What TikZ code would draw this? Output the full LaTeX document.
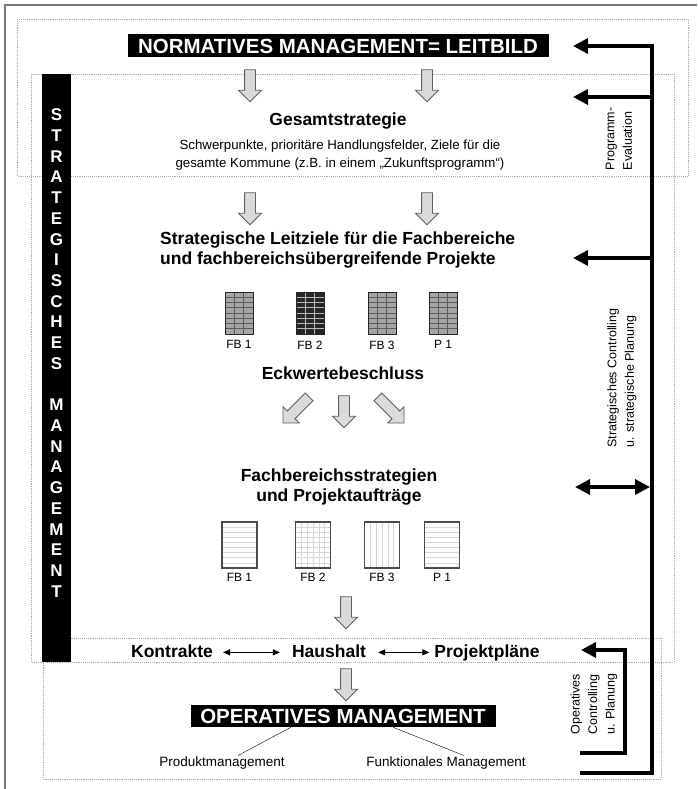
\documentclass[tikz,border=0pt]{standalone}
\usepackage{fontspec}
\setmainfont{Liberation Sans}
\usepackage{tikz}
\usetikzlibrary{arrows.meta, shapes.arrows, positioning, calc}
\definecolor{FrameGray}{RGB}{120,120,120}
\definecolor{ZoneGray}{RGB}{170,170,170}
\definecolor{ArrowFill}{RGB}{218,218,218}
\definecolor{ArrowLine}{RGB}{95,95,95}
\definecolor{SheetFill}{RGB}{165,165,165}
\definecolor{SheetLine}{RGB}{90,90,90}
\definecolor{PaleLine}{RGB}{215,215,215}

\begin{document}
\begin{tikzpicture}[x=1pt,y=-1pt,
    zone/.style={draw=ZoneGray,densely dotted,line width=0.9pt},
    blk/.style={fill=black,text=white,inner sep=0pt,font=\bfseries\fontsize{20.5}{23}\selectfont},
    hd/.style={font=\bfseries\fontsize{17.5}{20.5}\selectfont,inner sep=2pt},
    sm/.style={font=\fontsize{13.3}{18}\selectfont,inner sep=1pt},
    lbl/.style={font=\fontsize{12}{14}\selectfont,inner sep=1pt},
    mgt/.style={font=\fontsize{13.5}{15}\selectfont,inner sep=1pt},
    rot/.style={font=\fontsize{12.5}{17.5}\selectfont,rotate=90,align=left,inner sep=0pt},
    barch/.style={text=white,font=\bfseries\fontsize{17}{17}\selectfont,inner sep=0pt},
    harr/.style={single arrow,draw=ArrowLine,fill=ArrowFill,line width=0.9pt,
                 inner xsep=0pt,inner ysep=5pt,single arrow head extend=6pt},
    down/.style={harr,minimum height=32pt,rotate=-90},
    diag/.style={harr,minimum height=37pt},
    gsheet/.style 2 args={draw=black!85,line width=0.9pt,fill=#1,
                 minimum width=28pt,minimum height=42pt,inner sep=0pt,
                 path picture={
                   \foreach \c in {1,2}
                     \draw[#2,line width=1pt]
                       ($(path picture bounding box.north west)!\c/3!(path picture bounding box.north east)$) --
                       ($(path picture bounding box.south west)!\c/3!(path picture bounding box.south east)$);
                   \foreach \r in {1,...,7}
                     \draw[#2,line width=0.7pt]
                       ($(path picture bounding box.north west)!\r/8!(path picture bounding box.south west)$) --
                       ($(path picture bounding box.north east)!\r/8!(path picture bounding box.south east)$);
                 }},
    psheet/.style 2 args={draw=black!70,line width=1.6pt,fill=white,
                 minimum width=35pt,minimum height=46pt,inner sep=0pt,
                 path picture={
                   \foreach \r in {#1}
                     \draw[PaleLine,line width=0.6pt]
                       ($(path picture bounding box.north west)!\r/9!(path picture bounding box.south west)$) --
                       ($(path picture bounding box.north east)!\r/9!(path picture bounding box.south east)$);
                   \foreach \c in {#2}
                     \draw[PaleLine,line width=0.6pt]
                       ($(path picture bounding box.north west)!\c/6!(path picture bounding box.north east)$) --
                       ($(path picture bounding box.south west)!\c/6!(path picture bounding box.south east)$);
                 }},
    fb/.style={line width=3.5pt,-{Triangle[length=15pt,width=15pt]}},
    fbtwo/.style={line width=3.5pt,{Triangle[length=15pt,width=15pt]}-{Triangle[length=15pt,width=15pt]}},
    tw/.style={line width=1.2pt,{Triangle[length=7pt,width=6pt]}-{Triangle[length=7pt,width=6pt]}}
  ]
  \useasboundingbox (0,0) rectangle (697,789);

  % frame and zones
  \draw[FrameGray,line width=1.5pt] (5,789) -- (5,5) -- (697,5);
  \draw[zone] (17,19) rectangle (688,176);
  \draw[zone] (31,74) rectangle (674,662);
  \draw[zone] (43,638) rectangle (661,779);

  % strategic bar
  \node[fill=black,minimum width=29pt,minimum height=588pt,inner sep=0pt] (bar) at (56.5,368) {};
  \foreach \ch [count=\i] in {S,T,R,A,T,E,G,I,S,C,H,E,S}
    \node[barch] (s\i) at (56.5,{115+(\i-1)*20.7}) {\ch};
  \foreach \ch [count=\i] in {M,A,N,A,G,E,M,E,N,T}
    \node[barch] (m\i) at (56.5,{405+(\i-1)*20.7}) {\ch};

  % normative level
  \node[blk,minimum width=421pt,minimum height=23pt] (leitbild) at (338,46) {NORMATIVES MANAGEMENT= LEITBILD};
  \node[down] (d1) at (250,83) {};
  \node[down] (d2) at (427,83) {};
  \node[hd] (gesamt) at (338,121) {Gesamtstrategie};
  \node[sm,align=center] (schwer) at (340,155)
    {Schwerpunkte, prioritäre Handlungsfelder, Ziele für die\\gesamte Kommune (z.B. in einem „Zukunftsprogramm“)};

  % strategic level
  \node[down] (d3) at (250,206) {};
  \node[down] (d4) at (427,206) {};
  \node[hd,align=left,anchor=west] (leitziele) at (158,250)
    {Strategische Leitziele für die Fachbereiche\\und fachbereichsübergreifende Projekte};

  \node[gsheet={SheetFill}{SheetLine}] (g1) at (239,313) {};
  \node[gsheet={black!85}{gray!55}] (g2) at (310,313) {};
  \node[gsheet={SheetFill}{SheetLine}] (g3) at (382,313) {};
  \node[gsheet={SheetFill}{SheetLine}] (g4) at (443,313) {};
  \node[lbl,below=5pt of g1] (g1l) {FB 1};
  \node[lbl,below=5pt of g2] (g2l) {FB 2};
  \node[lbl,below=5pt of g3] (g3l) {FB 3};
  \node[lbl,below=5pt of g4] (g4l) {P 1};

  \node[hd] (eckwert) at (343,373) {Eckwertebeschluss};
  \node[diag,rotate=-135] (e1) at (298,408) {};
  \node[down] (e2) at (344,409) {};
  \node[diag,rotate=-45] (e3) at (389,408) {};

  \node[hd,align=center] (fbstrat) at (339,487) {Fachbereichsstrategien\\und Projektaufträge};

  \node[psheet={1,...,8}{6}] (p1) at (239.5,545) {};
  \node[psheet={1,...,8}{1,...,5}] (p2) at (313,545) {};
  \node[psheet={9}{1,...,5}] (p3) at (382,545) {};
  \node[psheet={1,...,8}{6}] (p4) at (442,545) {};
  \node[lbl,below=3pt of p1] (p1l) {FB 1};
  \node[lbl,below=3pt of p2] (p2l) {FB 2};
  \node[lbl,below=3pt of p3] (p3l) {FB 3};
  \node[lbl,below=3pt of p4] (p4l) {P 1};

  \node[down] (d5) at (346,610) {};

  % operative level
  \node[hd,inner xsep=10pt,anchor=base] (kontr) at (172,657) {Kontrakte};
  \node[hd,inner xsep=12pt,anchor=base] (haus) at (329,657) {Haushalt};
  \node[hd,inner xsep=5pt,anchor=base] (projp) at (487,657) {Projektpläne};
  \draw[tw] ([yshift=2pt]kontr.mid east) -- ([yshift=2pt]haus.mid west);
  \draw[tw] ([yshift=2pt]haus.mid east) -- ([yshift=2pt]projp.mid west);

  \node[down] (d6) at (346,682) {};
  \node[blk,minimum width=305pt,minimum height=22pt] (oper) at (343,716) {OPERATIVES MANAGEMENT};
  \node[mgt] (produkt) at (222,763) {Produktmanagement};
  \node[mgt] (funkt) at (446,763) {Funktionales Management};
  \draw[thin] ([xshift=-52pt]oper.south) -- ([xshift=16pt]produkt.north);
  \draw[thin] ([xshift=50pt]oper.south) -- ([xshift=18pt]funkt.north);

  % feedback loops on the right
  \coordinate (rTop) at (652,46);
  \coordinate (rBot) at (652,773);
  \coordinate (rEnd) at (580,773);
  \coordinate (jG) at (652,97);
  \coordinate (jL) at (652,258);
  \coordinate (jF) at (652,487);
  \coordinate (tipN) at (573,46);
  \coordinate (tipG) at (573,97);
  \coordinate (tipL) at (573,258);
  \coordinate (tipF) at (575,487);
  \draw[fb] (rEnd) -- (rBot) -- (rTop) -- (tipN);
  \draw[fb] (jG) -- (tipG);
  \draw[fb] (jL) -- (tipL);
  \draw[fbtwo] (tipF) -- ([xshift=-2pt]jF);

  \coordinate (oTop) at (625,650);
  \coordinate (oBot) at (625,753);
  \coordinate (oEnd) at (580,753);
  \coordinate (oTip) at (581,650);
  \draw[fb] (oEnd) -- (oBot) -- (oTop) -- (oTip);

  \node[rot] (progeval) at (619,139) {Programm-\\Evaluation};
  \node[rot] (stratctrl) at (622,378) {Strategisches Controlling\\u. strategische Planung};
  \node[rot] (operctrl) at (594,704) {Operatives\\Controlling\\u. Planung};
\end{tikzpicture}
\end{document}
